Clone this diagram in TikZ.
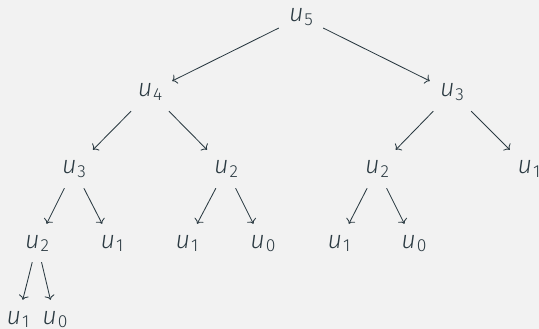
\documentclass[tikz,border=0pt]{standalone}
\usepackage{fontspec}
\setmainfont{Fira Sans Light}[ItalicFont={Fira Sans Light Italic}]
\usetikzlibrary{arrows.meta}
\definecolor{bgc}{HTML}{F2F2F2}
\definecolor{ink}{HTML}{2B3A42}
% a sequence term u_k with an upright lowered index
\newcommand{\uterm}[1]{\textit{u}\kern1pt\raisebox{-3.5pt}{\fontsize{17.5}{18}\selectfont #1}}
\begin{document}
\begin{tikzpicture}[x=1pt,y=-1pt,
  term/.style={rectangle, inner sep=0pt, minimum width=44pt, minimum height=38pt,
    text height=13pt, text depth=3pt, font=\fontsize{25}{30}\selectfont, text=ink},
  edge/.style={draw=ink, line width=0.85pt, -{To[length=4.5pt,width=10pt]}}]
\fill[bgc] (0,0) rectangle (539,329);
\useasboundingbox (0,0) rectangle (539,329);

% level 0
\node[term] (n5)  at (301,17)  {\uterm{5}};
% level 1
\node[term] (n4)  at (150,92)  {\uterm{4}};
\node[term] (n3r) at (452,92)  {\uterm{3}};
% level 2
\node[term] (n3)  at (74,169)  {\uterm{3}};
\node[term] (n2m) at (226,169) {\uterm{2}};
\node[term] (n2r) at (377,169) {\uterm{2}};
\node[term] (n1r) at (529,169) {\uterm{1}};
% level 3
\node[term] (n2)  at (37,243)  {\uterm{2}};
\node[term] (n1a) at (112,243) {\uterm{1}};
\node[term] (n1b) at (187,243) {\uterm{1}};
\node[term] (n0b) at (263,243) {\uterm{0}};
\node[term] (n1c) at (339,243) {\uterm{1}};
\node[term] (n0c) at (414,243) {\uterm{0}};
% level 4
\node[term] (n1d) at (18,319)  {\uterm{1}};
\node[term] (n0d) at (55,319)  {\uterm{0}};

\draw[edge] (n5) -- (n4);
\draw[edge] (n5) -- (n3r);
\draw[edge] (n4) -- (n3);
\draw[edge] (n4) -- (n2m);
\draw[edge] (n3r) -- (n2r);
\draw[edge] (n3r) -- (n1r);
\draw[edge] (n3) -- (n2);
\draw[edge] (n3) -- (n1a);
\draw[edge] (n2m) -- (n1b);
\draw[edge] (n2m) -- (n0b);
\draw[edge] (n2r) -- (n1c);
\draw[edge] (n2r) -- (n0c);
\draw[edge] (n2) -- (n1d);
\draw[edge] (n2) -- (n0d);
\end{tikzpicture}
\end{document}
